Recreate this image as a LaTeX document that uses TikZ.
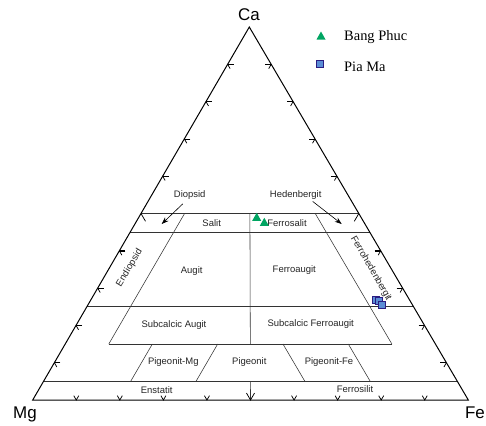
\documentclass[tikz,border=0pt]{standalone}
\usepackage{fontspec}
\setmainfont{Liberation Sans}
\newfontfamily\legendfont{Liberation Serif}
\usetikzlibrary{arrows.meta}
\definecolor{pgreen}{HTML}{00A562}
\definecolor{pblue}{HTML}{5B8DD6}
\definecolor{pindigo}{HTML}{2B1D82}

\newcommand{\bangphuc}[2]{\fill[pgreen] (#1-4.5,#2+3.5) -- (#1+4.5,#2+3.5) -- (#1,#2-4.5) -- cycle;}
\newcommand{\piama}[2]{\filldraw[fill=pblue, draw=pindigo, line width=1pt] (#1-3.5,#2-3.5) rectangle (#1+3.5,#2+3.5);}

\begin{document}
\begin{tikzpicture}[x=1bp, y=-1bp,
  field/.style={font=\fontsize{9.5}{11}\selectfont, text=black!85, inner sep=0pt},
  corner/.style={font=\fontsize{17}{19}\selectfont, inner sep=0pt},
  legend/.style={font=\legendfont\fontsize{14.5}{16}\selectfont, anchor=west, inner sep=0pt},
  bound/.style={black!80, line width=0.55pt},
  tickmark/.style={black, line width=0.75pt},
  pointer/.style={black, line width=0.6pt, -{Stealth[length=7bp, width=5bp]}}]
\useasboundingbox (0,0) rectangle (486,425);
\fill[white] (0,0) rectangle (486,425);

% ternary field: x = Fe, y = Ca
\begin{scope}[shift={(32.7,400)}, x={(435.6bp,0bp)}, y={(216.6bp,373bp)}]
\draw[bound] (0,0.50) -- (0.50,0.50);
\draw[bound] (0,0.45) -- (0.55,0.45);
\draw[bound] (0,0.25) -- (0.75,0.25);
\draw[bound] (0.10,0.15) -- (0.75,0.15);
\draw[bound] (0,0.05) -- (0.95,0.05);
\draw[bound] (0.10,0.15) -- (0.10,0.50);
\draw[bound] (0.75,0.15) -- (0.40,0.50);
\draw[bound] (0.425,0.15) -- (0.25,0.50);
\draw[bound] (0.20,0.05) -- (0.20,0.15);
\draw[bound] (0.35,0.05) -- (0.35,0.15);
\draw[bound] (0.60,0.05) -- (0.50,0.15);
\draw[bound] (0.75,0.05) -- (0.65,0.15);
\draw[bound] (0.475,0.05) -- (0.50,0);
% scale ticks
\foreach \k in {0.1,0.2,0.3,0.4,0.6,0.7,0.8,0.9} {
  \draw[tickmark] (\k,0) ++(60:5bp) -- ++(240:5bp) -- ++(120:5bp);
}
\foreach \k/\w in {0.1/0.75pt,0.2/1.4pt,0.3/0.75pt,0.4/1.4pt,0.6/1.4pt,0.7/0.75pt,0.8/1.4pt,0.9/1.4pt} {
  \draw[tickmark, line width=\w] (0,\k) ++(0:6bp) -- ++(180:6bp);
  \draw[tickmark] (0,\k) -- ++(-60:5bp);
  \draw[tickmark, line width=\w] ({1-\k},\k) ++(180:6bp) -- ++(0:6bp);
  \draw[tickmark] ({1-\k},\k) -- ++(-120:5bp);
}
\draw[tickmark] (0.5,0) ++(60:8bp) -- ++(240:8bp) -- ++(120:8bp);
\draw[tickmark] (0,0.5) -- ++(-60:9bp);
\draw[tickmark] (0.5,0.5) -- ++(-120:9bp);
\draw[black, line width=1pt, line join=miter] (0,0) -- (1,0) -- (0,1) -- cycle;
\end{scope}

% corner labels
\node[corner] (ca) at (249,15) {Ca};
\node[corner] (mg) at (25,414) {Mg};
\node[corner] (fe) at (475,413) {Fe};

% field names
\node[field] (diopsid) at (189.7,195.3) {Diopsid};
\node[field] (hedenbergit) at (295.7,195.3) {Hedenbergit};
\node[field] (salit) at (211.7,223) {Salit};
\node[field] (ferrosalit) at (287,223) {Ferrosalit};
\node[field, rotate=59] (endiopsid) at (129.5,268) {Endiopsid};
\node[field] (augit) at (191.7,271.5) {Augit};
\node[field] (ferroaugit) at (294.3,270) {Ferroaugit};
\node[field, rotate=-60] (ferrohedenbergit) at (371,268.5) {Ferrohedenbergit};
\node[field] (subaugit) at (174,325) {Subcalcic Augit};
\node[field] (subferroaugit) at (310.7,324.3) {Subcalcic Ferroaugit};
\node[field] (pigeonitmg) at (173.3,361.7) {Pigeonit-Mg};
\node[field] (pigeonit) at (249.3,362.3) {Pigeonit};
\node[field] (pigeonitfe) at (329,362.3) {Pigeonit-Fe};
\node[field] (enstatit) at (156.7,390) {Enstatit};
\node[field] (ferrosilit) at (355,389) {Ferrosilit};

\coordinate (diopsidtip) at (161.7,224);
\coordinate (hedenbergittip) at (341.7,224);
\draw[pointer] ([xshift=-7bp, yshift=-4bp]diopsid.south) -- (diopsidtip);
\draw[pointer] ([xshift=-9bp, yshift=-1.5bp]hedenbergit.south east) -- (hedenbergittip);

% samples
\bangphuc{256.7}{217.3}
\bangphuc{264.3}{222.3}
\piama{376}{300}
\piama{378.5}{301}
\piama{382}{304.5}

% legend
\bangphuc{321}{36}
\node[legend] (bangphuclabel) at (344,37) {Bang Phuc};
\piama{320}{64}
\node[legend] (piamalabel) at (344,67) {Pia Ma};
\end{tikzpicture}
\end{document}
